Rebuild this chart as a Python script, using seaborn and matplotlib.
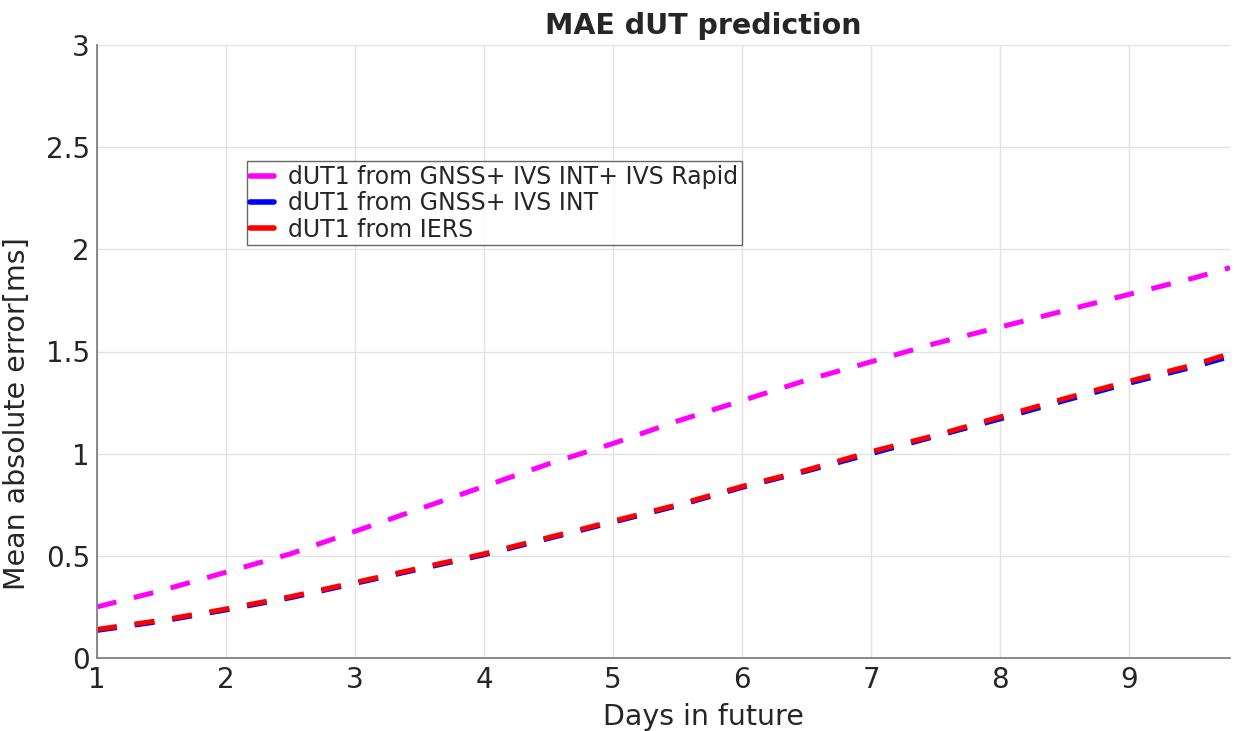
import matplotlib
matplotlib.use("Agg")
import matplotlib.pyplot as plt
import numpy as np
import pandas as pd
import seaborn as sns

# days ahead and mean absolute error values
days = [1, 1.5, 2, 2.5, 3, 3.5, 4, 4.5, 5, 5.5, 6, 6.5, 7, 7.5, 8, 8.5, 9, 9.5, 9.78]
mae_rapid = [0.25, 0.33, 0.42, 0.51, 0.62, 0.73, 0.84, 0.95, 1.05, 1.16, 1.26, 1.36,
             1.45, 1.54, 1.62, 1.70, 1.78, 1.86, 1.91]
mae_int = [0.135, 0.18, 0.235, 0.295, 0.365, 0.435, 0.505, 0.585, 0.665, 0.745, 0.835,
           0.915, 1.0, 1.085, 1.17, 1.26, 1.345, 1.425, 1.475]
mae_iers = [0.14, 0.185, 0.24, 0.30, 0.37, 0.44, 0.51, 0.59, 0.67, 0.75, 0.84,
            0.92, 1.01, 1.09, 1.18, 1.27, 1.355, 1.435, 1.49]
labels = ["dUT1 from GNSS+ IVS INT+ IVS Rapid", "dUT1 from GNSS+ IVS INT", "dUT1 from IERS"]
colors = ["#ff00ff", "#0000ff", "#ff0000"]

sns.set_style("white")
plt.rcParams["font.family"] = ["DejaVu Sans"]

fig = plt.figure(figsize=(12.6, 7.31), dpi=100)
ax = fig.add_axes([97 / 1260, 73 / 731, 1133 / 1260, 613 / 731])

for vals, lab, col in zip([mae_rapid, mae_int, mae_iers], labels, colors):
    sns.lineplot(x=days, y=vals, ax=ax, color=col, linewidth=3.6, label=lab)
for line in ax.get_lines():
    line.set_dash_capstyle("butt")
    line.set_dashes([4, 3.6])

ax.set_xlim(1, 9.78)
ax.set_ylim(0, 3)
ax.set_xticks(range(1, 10))
ax.set_yticks([0, 0.5, 1, 1.5, 2, 2.5, 3])
ax.set_yticklabels(["0", "0.5", "1", "1.5", "2", "2.5", "3"])
ax.grid(True, color="#e3e3e3", linewidth=1)
ax.set_axisbelow(True)

for s in ["top", "right"]:
    ax.spines[s].set_visible(False)
for s in ["left", "bottom"]:
    ax.spines[s].set_color("#808080")
    ax.spines[s].set_linewidth(1.3)

ax.tick_params(axis="both", direction="in", length=8, width=1, color="#404040",
               labelsize=20, labelcolor="#262626", pad=5)
ax.tick_params(axis="x", pad=6)

ax.set_title("MAE dUT prediction", fontsize=20.5, fontweight="bold", x=0.535, pad=8)
ax.set_xlabel("Days in future", fontsize=20.5, color="#262626")
ax.set_ylabel("Mean absolute error[ms]", fontsize=20.5, color="#262626")
ax.xaxis.set_label_coords(0.535, -0.073)
ax.yaxis.set_label_coords(-0.058, 0.398)

leg = ax.legend(loc="upper left", bbox_to_anchor=(0.132, 0.81), fontsize=17,
                frameon=True, fancybox=False, handlelength=1.0, handletextpad=0.6,
                borderpad=0.15, labelspacing=0.1, borderaxespad=0)
leg.get_frame().set_edgecolor("#404040")
leg.get_frame().set_linewidth(1)
for h in leg.get_lines():
    h.set_linestyle("-")
    h.set_linewidth(4)

fig.savefig("out.png", dpi=100)
